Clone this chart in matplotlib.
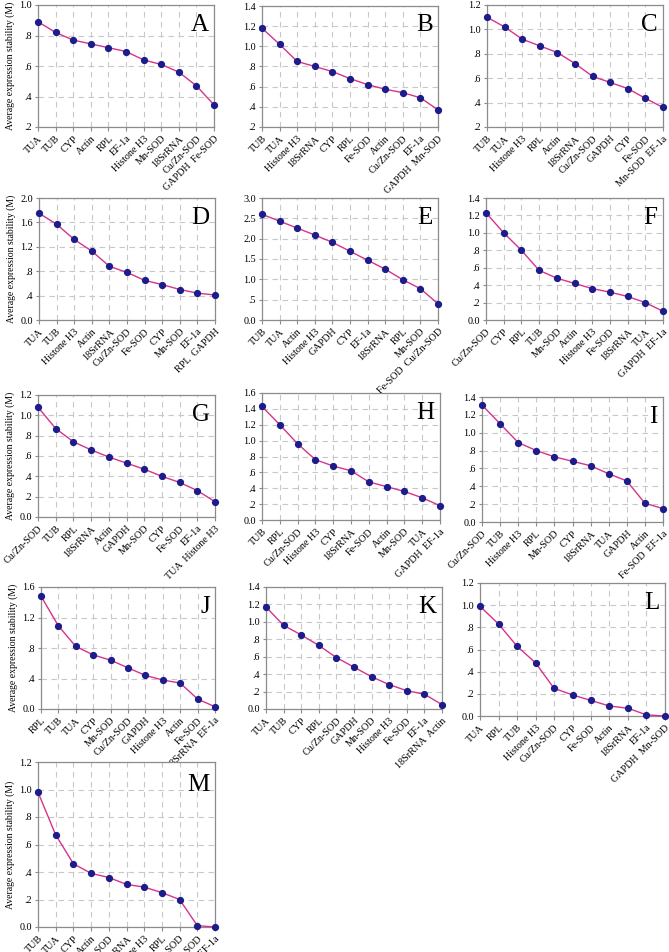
import matplotlib
matplotlib.use("Agg")
import matplotlib.pyplot as plt
from matplotlib.ticker import FuncFormatter, MultipleLocator

# geNorm average expression stability (M), genes ordered least -> most stable
genes_A = ["TUA", "TUB", "CYP", "Actin", "RPL", "EF-1a", "Histone H3", "Mn-SOD", "18SrRNA", "Cu/Zn-SOD", "GAPDH  Fe-SOD"]
m_A = [0.89, 0.82, 0.77, 0.745, 0.72, 0.695, 0.64, 0.61, 0.56, 0.47, 0.345]

genes_B = ["TUB", "TUA", "Histone H3", "18SrRNA", "CYP", "RPL", "Fe-SOD", "Actin", "Cu/Zn-SOD", "EF-1a", "GAPDH  Mn-SOD"]
m_B = [1.18, 1.02, 0.85, 0.80, 0.75, 0.68, 0.62, 0.575, 0.54, 0.49, 0.37]

genes_C = ["TUB", "TUA", "Histone H3", "RPL", "Actin", "18SrRNA", "Cu/Zn-SOD", "GAPDH", "CYP", "Fe-SOD", "Mn-SOD  EF-1a"]
m_C = [1.10, 1.02, 0.92, 0.865, 0.81, 0.72, 0.615, 0.565, 0.515, 0.435, 0.36]

genes_D = ["TUA", "TUB", "Histone H3", "Actin", "18SrRNA", "Cu/Zn-SOD", "Fe-SOD", "CYP", "Mn-SOD", "EF-1a", "RPL  GAPDH"]
m_D = [1.75, 1.57, 1.32, 1.13, 0.88, 0.78, 0.65, 0.58, 0.50, 0.44, 0.41]

genes_E = ["TUB", "TUA", "Actin", "Histone H3", "GAPDH", "CYP", "EF-1a", "18SrRNA", "RPL", "Mn-SOD", "Fe-SOD  Cu/Zn-SOD"]
m_E = [2.60, 2.43, 2.26, 2.09, 1.91, 1.69, 1.47, 1.25, 0.99, 0.77, 0.40]

genes_F = ["Cu/Zn-SOD", "CYP", "RPL", "TUB", "Mn-SOD", "Actin", "Histone H3", "Fe-SOD", "18SrRNA", "TUA", "GAPDH  EF-1a"]
m_F = [1.23, 1.00, 0.80, 0.57, 0.48, 0.42, 0.36, 0.32, 0.27, 0.20, 0.10]

genes_G = ["Cu/Zn-SOD", "TUB", "RPL", "18SrRNA", "Actin", "GAPDH", "Mn-SOD", "CYP", "Fe-SOD", "EF-1a", "TUA  Histone H3"]
m_G = [1.08, 0.87, 0.74, 0.66, 0.59, 0.53, 0.47, 0.40, 0.34, 0.26, 0.15]

genes_H = ["TUB", "RPL", "Cu/Zn-SOD", "Histone H3", "CYP", "18SrRNA", "Fe-SOD", "Actin", "Mn-SOD", "TUA", "GAPDH  EF-1a"]
m_H = [1.43, 1.20, 0.96, 0.76, 0.68, 0.62, 0.48, 0.42, 0.36, 0.28, 0.18]

genes_I = ["Cu/Zn-SOD", "TUB", "Histone H3", "RPL", "Mn-SOD", "CYP", "18SrRNA", "TUA", "GAPDH", "Actin", "Fe-SOD  EF-1a"]
m_I = [1.31, 1.10, 0.89, 0.80, 0.73, 0.68, 0.63, 0.54, 0.46, 0.21, 0.15]

genes_J = ["RPL", "TUB", "TUA", "CYP", "Mn-SOD", "Cu/Zn-SOD", "GAPDH", "Histone H3", "Actin", "Fe-SOD", "18SrRNA  EF-1a"]
m_J = [1.48, 1.09, 0.82, 0.71, 0.64, 0.54, 0.44, 0.38, 0.34, 0.13, 0.03]

genes_K = ["TUA", "TUB", "CYP", "RPL", "Cu/Zn-SOD", "GAPDH", "Mn-SOD", "Histone H3", "Fe-SOD", "EF-1a", "18SrRNA  Actin"]
m_K = [1.17, 0.96, 0.85, 0.73, 0.59, 0.48, 0.37, 0.28, 0.21, 0.17, 0.05]

genes_L = ["TUA", "RPL", "TUB", "Histone H3", "Cu/Zn-SOD", "CYP", "Fe-SOD", "Actin", "18SrRNA", "EF-1a", "GAPDH  Mn-SOD"]
m_L = [0.99, 0.83, 0.63, 0.48, 0.25, 0.19, 0.14, 0.09, 0.07, 0.01, 0.0]

genes_M = ["TUB", "TUA", "CYP", "Actin", "Fe-SOD", "18SrRNA", "Histone H3", "RPL", "Mn-SOD", "Cu/Zn-SOD", "GAPDH  EF-1a"]
m_M = [0.98, 0.67, 0.46, 0.39, 0.36, 0.31, 0.29, 0.25, 0.20, 0.01, 0.0]

FIG_W, FIG_H = 669, 952
LINE_COLOR = "#d6338a"
MARKER_COLOR = "#1c1c8c"
GRID_COLOR = "#c8c8c8"
FRAME_COLOR = "#8c8c8c"

plt.rcParams["font.family"] = ["Liberation Serif", "DejaVu Serif"]


def fmt_tick(v, _pos):
    s = f"{v:.1f}"
    if s.startswith("0.") and s != "0.0":
        s = s[1:]
    return s


def draw_panel(fig, rect_px, genes, values, ymin, ymax, step, letter, ylabel=False):
    left, top, right, bottom = rect_px
    ax = fig.add_axes([left / FIG_W, 1 - bottom / FIG_H,
                       (right - left) / FIG_W, (bottom - top) / FIG_H])
    x = list(range(len(genes)))
    ax.plot(x, values, color=LINE_COLOR, lw=1.0, zorder=3, clip_on=False)
    ax.plot(x, values, "o", color=MARKER_COLOR, ms=4.2, zorder=4, clip_on=False)
    ax.set_xlim(0, len(genes) - 1)
    ax.set_ylim(ymin, ymax)
    ax.yaxis.set_major_locator(MultipleLocator(step))
    ax.yaxis.set_major_formatter(FuncFormatter(fmt_tick))
    ax.set_xticks(x)
    ax.set_xticklabels(genes, rotation=45, ha="right", rotation_mode="anchor", fontsize=7.3)
    ax.tick_params(axis="y", labelsize=7.3, length=2.5, color=FRAME_COLOR, pad=2)
    ax.tick_params(axis="x", length=3, color=FRAME_COLOR, pad=2)
    ax.grid(True, ls=(0, (5, 4)), color=GRID_COLOR, lw=0.8)
    ax.set_axisbelow(True)
    for sp in ax.spines.values():
        sp.set_color(FRAME_COLOR)
        sp.set_linewidth(0.9)
    ax.text(0.97, 0.93, letter, transform=ax.transAxes, ha="right", va="top",
            fontsize=18, zorder=5)
    if ylabel:
        ax.set_ylabel("Average expression stability (M)", fontsize=7.0, labelpad=3)
    return ax


fig = plt.figure(figsize=(FIG_W / 100, FIG_H / 100), dpi=100)

# rect in pixels: left, top, right, bottom
draw_panel(fig, (38, 5, 214, 127), genes_A, m_A, 0.2, 1.0, 0.2, "A", ylabel=True)
draw_panel(fig, (262, 6, 438, 127), genes_B, m_B, 0.2, 1.4, 0.2, "B")
draw_panel(fig, (487, 5, 663, 127), genes_C, m_C, 0.2, 1.2, 0.2, "C")

draw_panel(fig, (39, 198, 215, 320), genes_D, m_D, 0.0, 2.0, 0.4, "D", ylabel=True)
draw_panel(fig, (262, 198, 438, 320), genes_E, m_E, 0.0, 3.0, 0.5, "E")
draw_panel(fig, (486, 198, 663, 320), genes_F, m_F, 0.0, 1.4, 0.2, "F")

draw_panel(fig, (38, 395, 215, 517), genes_G, m_G, 0.0, 1.2, 0.2, "G", ylabel=True)
draw_panel(fig, (262, 393, 440, 520), genes_H, m_H, 0.0, 1.6, 0.2, "H")
draw_panel(fig, (482, 397, 663, 522), genes_I, m_I, 0.0, 1.4, 0.2, "I")

draw_panel(fig, (41, 587, 215, 709), genes_J, m_J, 0.0, 1.6, 0.4, "J", ylabel=True)
draw_panel(fig, (266, 587, 442, 709), genes_K, m_K, 0.0, 1.4, 0.2, "K")
draw_panel(fig, (480, 583, 665, 716), genes_L, m_L, 0.0, 1.2, 0.2, "L")

draw_panel(fig, (38, 762, 215, 927), genes_M, m_M, 0.0, 1.2, 0.2, "M", ylabel=True)

fig.savefig("out.png", dpi=100)
